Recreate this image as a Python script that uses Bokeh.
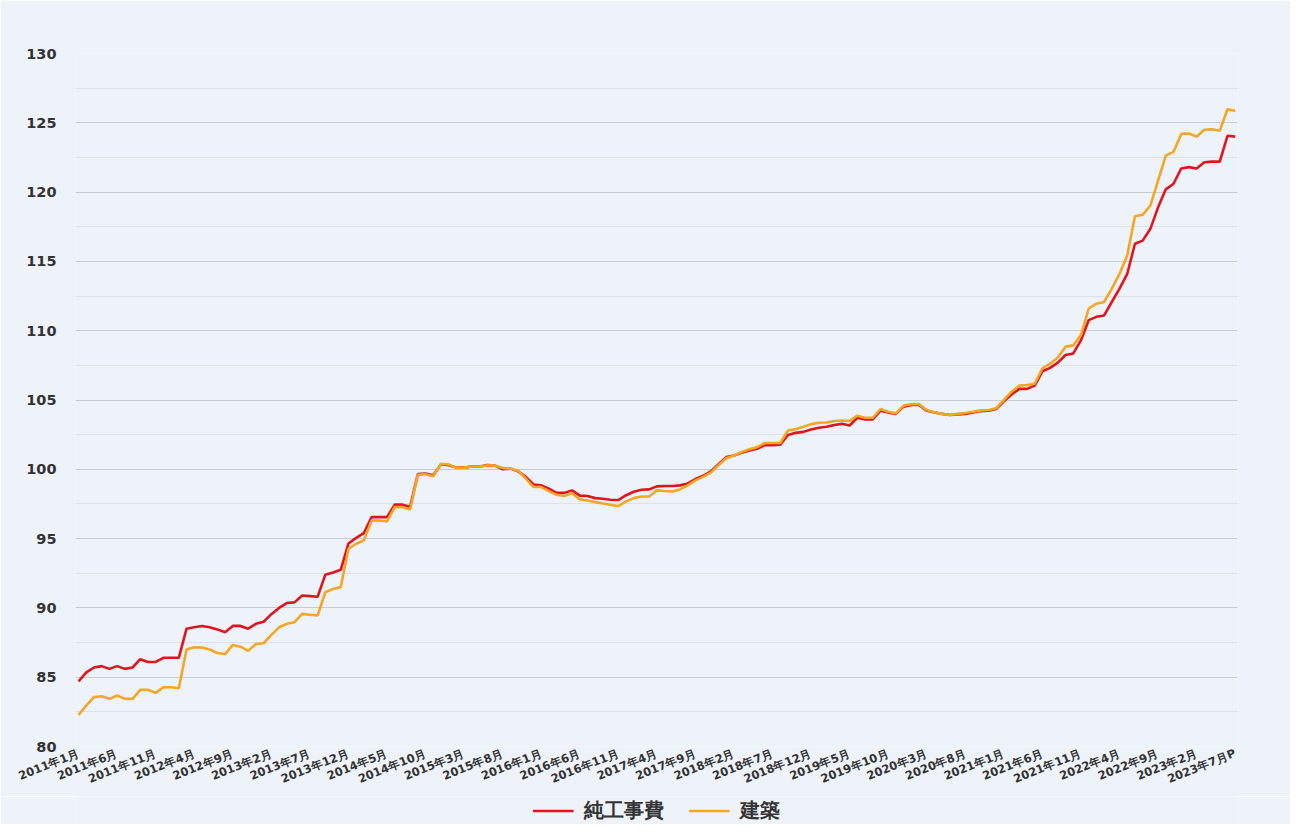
from bokeh.plotting import figure
from bokeh.layouts import column
from bokeh.models import (Legend, LegendItem, FixedTicker, SingleIntervalTicker,
                          Range1d, ColumnDataSource)
from bokeh.embed import file_html
from bokeh.resources import INLINE

# ---- data -------------------------------------------------------------
tick_labels = [
    "2011年1月", "2011年6月", "2011年11月", "2012年4月", "2012年9月",
    "2013年2月", "2013年7月", "2013年12月", "2014年5月", "2014年10月",
    "2015年3月", "2015年8月", "2016年1月", "2016年6月", "2016年11月",
    "2017年4月", "2017年9月", "2018年2月", "2018年7月", "2018年12月",
    "2019年5月", "2019年10月", "2020年3月", "2020年8月", "2021年1月",
    "2021年6月", "2021年11月", "2022年4月", "2022年9月", "2023年2月",
    "2023年7月P",
]

# 純工事費 (monthly, 2011-01 .. 2023-07P)
junkoujihi = [
    84.7, 85.35, 85.7, 85.8, 85.6, 85.8, 85.6, 85.7, 86.3, 86.1,
    86.1, 86.4, 86.4, 86.4, 88.5, 88.6, 88.7, 88.6, 88.45, 88.25,
    88.7, 88.7, 88.5, 88.85, 89.0, 89.55, 90.0, 90.35, 90.4, 90.9,
    90.85, 90.8, 92.4, 92.55, 92.75, 94.65, 95.05, 95.4, 96.55, 96.55,
    96.55, 97.45, 97.45, 97.3, 99.65, 99.7, 99.57, 100.36, 100.3, 100.12,
    100.12, 100.2, 100.2, 100.3, 100.27, 100.0, 100.05, 99.85, 99.45, 98.9,
    98.84, 98.6, 98.3, 98.3, 98.48, 98.1, 98.07, 97.92, 97.87, 97.8,
    97.78, 98.13, 98.38, 98.52, 98.55, 98.77, 98.8, 98.8, 98.84, 98.98,
    99.3, 99.53, 99.85, 100.37, 100.88, 101.0, 101.2, 101.35, 101.48, 101.74,
    101.74, 101.78, 102.48, 102.63, 102.7, 102.87, 103.0, 103.07, 103.2, 103.28,
    103.16, 103.72, 103.6, 103.6, 104.23, 104.1, 104.0, 104.52, 104.64, 104.64,
    104.23, 104.1, 104.0, 103.92, 103.96, 104.0, 104.1, 104.2, 104.23, 104.35,
    104.9, 105.4, 105.8, 105.8, 106.04, 107.07, 107.32, 107.7, 108.25, 108.36,
    109.3, 110.76, 111.0, 111.1, 112.07, 113.03, 114.1, 116.27, 116.5, 117.35,
    118.9, 120.2, 120.6, 121.7, 121.8, 121.7, 122.15, 122.2, 122.2, 124.06,
    124.0,
]

# 建築
kenchiku = [
    82.28, 82.96, 83.56, 83.63, 83.44, 83.68, 83.44, 83.44, 84.09, 84.09,
    83.87, 84.28, 84.28, 84.2, 87.0, 87.16, 87.14, 87.0, 86.75, 86.66,
    87.33, 87.2, 86.9, 87.4, 87.45, 88.05, 88.6, 88.85, 88.97, 89.57,
    89.5, 89.45, 91.13, 91.37, 91.5, 94.27, 94.63, 94.87, 96.3, 96.3,
    96.24, 97.27, 97.27, 97.1, 99.6, 99.65, 99.5, 100.4, 100.35, 100.1,
    100.12, 100.2, 100.2, 100.28, 100.27, 100.1, 100.05, 99.9, 99.32, 98.72,
    98.72, 98.43, 98.16, 98.07, 98.28, 97.83, 97.75, 97.63, 97.53, 97.44,
    97.34, 97.68, 97.92, 98.04, 98.04, 98.48, 98.43, 98.4, 98.55, 98.84,
    99.2, 99.45, 99.76, 100.3, 100.8, 101.0, 101.25, 101.45, 101.6, 101.9,
    101.9, 101.9, 102.8, 102.9, 103.07, 103.26, 103.36, 103.38, 103.48, 103.52,
    103.49, 103.87, 103.72, 103.72, 104.35, 104.15, 104.04, 104.6, 104.7, 104.7,
    104.28, 104.1, 104.0, 103.92, 104.0, 104.06, 104.15, 104.25, 104.28, 104.4,
    105.0, 105.6, 106.04, 106.08, 106.17, 107.29, 107.62, 108.06, 108.85, 108.94,
    109.68, 111.6, 111.95, 112.07, 113.03, 114.1, 115.43, 118.26, 118.36, 119.03,
    120.83, 122.63, 122.9, 124.2, 124.23, 124.0, 124.5, 124.54, 124.42, 125.98,
    125.86,
]

series_names = ["純工事費", "建築"]

# ---- styling ----------------------------------------------------------
BG = "#eef3fa"
RED = "#e3131e"
ORANGE = "#f5a623"
FONT = "DejaVu Sans"
LW = 2.6

idx = list(range(len(junkoujihi)))
src = ColumnDataSource(dict(x=idx, a=junkoujihi, b=kenchiku))

p = figure(width=1290, height=796, output_backend="svg", toolbar_location=None,
           x_range=Range1d(-0.4, 150.3), y_range=Range1d(80, 130),
           min_border_left=75, min_border_right=53, min_border_top=53,
           min_border_bottom=50,
           background_fill_color=BG, border_fill_color=BG,
           outline_line_color=None)

p.line("x", "a", source=src, line_color=RED, line_width=LW)
p.line("x", "b", source=src, line_color=ORANGE, line_width=LW)

# y axis
p.yaxis.ticker = SingleIntervalTicker(interval=5, num_minor_ticks=2)
p.yaxis.axis_line_color = None
p.yaxis.major_tick_line_color = None
p.yaxis.minor_tick_line_color = None
p.yaxis.major_tick_out = 0
p.yaxis.major_label_standoff = 15
p.yaxis.major_label_text_font = FONT
p.yaxis.major_label_text_font_style = "bold"
p.yaxis.major_label_text_font_size = "14.5px"
p.yaxis.major_label_text_color = "#333333"

# x axis
positions = list(range(0, len(idx), 5))
p.xaxis.ticker = FixedTicker(ticks=positions)
p.xaxis.major_label_overrides = {pos: lab for pos, lab in zip(positions, tick_labels)}
p.xaxis.major_label_orientation = 0.38
p.xaxis.axis_line_color = None
p.xaxis.major_tick_line_color = None
p.xaxis.minor_tick_line_color = None
p.xaxis.major_tick_out = 0
p.xaxis.major_label_standoff = 6
p.xaxis.major_label_text_font = FONT
p.xaxis.major_label_text_font_style = "bold"
p.xaxis.major_label_text_font_size = "11.5px"
p.xaxis.major_label_text_color = "#333333"

# grid
p.xgrid.visible = False
p.ygrid.grid_line_color = "#c6cbd4"
p.ygrid.grid_line_width = 1
p.ygrid.minor_grid_line_color = "#dde2ea"
p.ygrid.minor_grid_line_width = 1

# ---- legend strip ----------------------------------------------------
lg = figure(width=1290, height=28, output_backend="svg", toolbar_location=None,
            x_range=Range1d(0, 1), y_range=Range1d(0, 1),
            x_axis_type=None, y_axis_type=None, min_border=0,
            background_fill_color=BG, border_fill_color=BG,
            outline_line_color=None)
lg.xgrid.visible = False
lg.ygrid.visible = False
# off-screen samples so the legend glyphs are drawn
sample = ColumnDataSource(dict(x=[-5, -4], y=[-5, -5]))
k1 = lg.line("x", "y", source=sample, line_color=RED, line_width=LW)
k2 = lg.line("x", "y", source=sample, line_color=ORANGE, line_width=LW)

legend = Legend(items=[LegendItem(label=series_names[0], renderers=[k1]),
                       LegendItem(label=series_names[1], renderers=[k2])],
                orientation="horizontal", location="center",
                label_text_font=FONT, label_text_font_style="bold",
                label_text_font_size="20px", label_text_color="#333333",
                glyph_width=41, glyph_height=20, label_standoff=10,
                spacing=25, background_fill_alpha=0, border_line_color=None,
                padding=0, margin=0)
lg.add_layout(legend, "center")

layout = column(p, lg, spacing=0)
open("out.html", "w").write(file_html(layout, INLINE))
